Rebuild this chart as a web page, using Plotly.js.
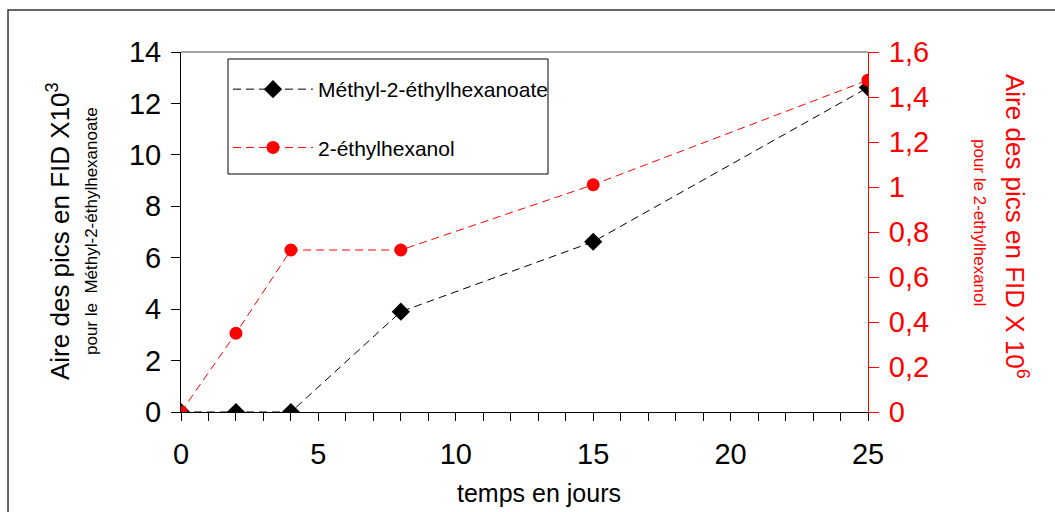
<!DOCTYPE html>
<html>
<head>
<meta charset="utf-8">
<script src="https://cdn.plot.ly/plotly-3.0.1.min.js"></script>
<style>html,body{margin:0;padding:0;background:#fff;}#chart{width:1055px;height:512px;}</style>
</head>
<body>
<div id="chart"></div>
<script>
const days = [0, 2, 4, 8, 15, 25];
const methylEster = [0, 0, 0, 3.9, 6.62, 12.62];
const ethylhexanol = [0, 0.35, 0.72, 0.72, 1.01, 1.475];
const seriesNames = ["Méthyl-2-éthylhexanoate", "2-éthylhexanol"];
const leftTicks = [0, 2, 4, 6, 8, 10, 12, 14];
const rightTicks = [0, 0.2, 0.4, 0.6, 0.8, 1, 1.2, 1.4, 1.6];
const xTicks = [0, 5, 10, 15, 20, 25];

const FONT = "Liberation Sans, Arial, sans-serif";
const W = 687, H = 360, L = 181, T = 52;
const px = v => (v - L) / W;
const py = v => 1 - (v - T) / H;

const traces = [
  {
    x: days, y: methylEster, name: seriesNames[0], type: "scatter", mode: "lines+markers",
    yaxis: "y", legendgroup: "a",
    line: {color: "#000", width: 1, dash: "8px,5px"},
    marker: {symbol: "diamond", size: 14, color: "#000"}
  },
  {
    x: days, y: ethylhexanol, name: seriesNames[1], type: "scatter", mode: "lines+markers",
    yaxis: "y2", legendgroup: "b",
    line: {color: "#ff0000", width: 1, dash: "8px,5px"},
    marker: {symbol: "circle", size: 13, color: "#ff0000"}
  }
];

const layout = {
  width: 1055, height: 512,
  margin: {l: L, r: 1055 - L - W, t: T, b: 512 - T - H},
  paper_bgcolor: "#fff", plot_bgcolor: "#fff",
  separators: ", ",
  font: {family: FONT, color: "#000"},
  showlegend: true,
  legend: {
    x: px(228), y: py(69), xanchor: "left", yanchor: "top",
    borderwidth: 0, bgcolor: "rgba(0,0,0,0)",
    font: {size: 21, family: FONT, color: "#000"},
    traceorder: "grouped", tracegroupgap: 28, itemwidth: 80
  },
  xaxis: {
    range: [0, 25], tickvals: xTicks, ticktext: xTicks.map(String),
    showgrid: false, zeroline: false, showline: true, linecolor: "#000", linewidth: 1,
    ticks: "outside", ticklen: 8, tickcolor: "#000", ticklabelstandoff: 8,
    minor: {dtick: 1, tick0: 0, ticks: "outside", ticklen: 8, tickcolor: "#000", showgrid: false},
    tickfont: {size: 29, family: FONT, color: "#000"}
  },
  yaxis: {
    range: [0, 14], tickvals: leftTicks,
    showgrid: false, zeroline: false, showline: true, linecolor: "#000", linewidth: 1,
    ticks: "outside", ticklen: 9, tickcolor: "#000", ticklabelstandoff: 4,
    tickfont: {size: 29, family: FONT, color: "#000"}
  },
  yaxis2: {
    range: [0, 1.6], tickvals: rightTicks, overlaying: "y", side: "right", anchor: "x",
    showgrid: false, zeroline: false, showline: true, linecolor: "#ff0000", linewidth: 1,
    ticks: "outside", ticklen: 10, tickcolor: "#ff0000", ticklabelstandoff: 4,
    tickfont: {size: 29, family: FONT, color: "#ff0000"}
  },
  yaxis3: {
    range: [0, 1.6], tickvals: rightTicks, overlaying: "y", side: "right", anchor: "x",
    showgrid: false, zeroline: false, showline: false,
    ticks: "inside", ticklen: 9, tickcolor: "#ff0000", showticklabels: false
  },
  shapes: [
    {type: "line", xref: "paper", yref: "paper", x0: 0, x1: 1, y0: 1, y1: 1,
     line: {color: "#888", width: 1.5}},
    {type: "rect", xref: "paper", yref: "paper", x0: -0.2518, x1: 1.30, y0: -0.35, y1: 1.1167,
     line: {color: "#333", width: 1.5}, fillcolor: "rgba(0,0,0,0)", layer: "below"},
    {type: "rect", xref: "paper", yref: "paper", x0: px(228), x1: px(548), y0: py(174), y1: py(59),
     line: {color: "#000", width: 1}, fillcolor: "#fff", layer: "below"}
  ],
  annotations: [
    {xref: "paper", yref: "paper", x: px(539), y: py(493),
     text: "temps en jours", showarrow: false,
     xanchor: "center", yanchor: "middle", font: {size: 25, family: FONT, color: "#000"}},
    {xref: "paper", yref: "paper", x: px(58), y: py(231),
     text: "Aire des pics en FID X10<sup>3</sup>", textangle: -90, showarrow: false,
     xanchor: "center", yanchor: "middle", font: {size: 26, family: FONT, color: "#000"}},
    {xref: "paper", yref: "paper", x: px(91), y: py(231),
     text: "pour le  Méthyl-2-éthylhexanoate", textangle: -90, showarrow: false,
     xanchor: "center", yanchor: "middle", font: {size: 17, family: FONT, color: "#000"}},
    {xref: "paper", yref: "paper", x: px(1017), y: py(226),
     text: "Aire des pics en FID X 10<sup>6</sup>", textangle: 90, showarrow: false,
     xanchor: "center", yanchor: "middle", font: {size: 26, family: FONT, color: "#ff0000"}},
    {xref: "paper", yref: "paper", x: px(980), y: py(222),
     text: "pour le 2-ethylhexanol", textangle: 90, showarrow: false,
     xanchor: "center", yanchor: "middle", font: {size: 17, family: FONT, color: "#ff0000"}}
  ]
};

Plotly.newPlot("chart", traces, layout, {displayModeBar: false, staticPlot: true});
</script>
</body>
</html>
